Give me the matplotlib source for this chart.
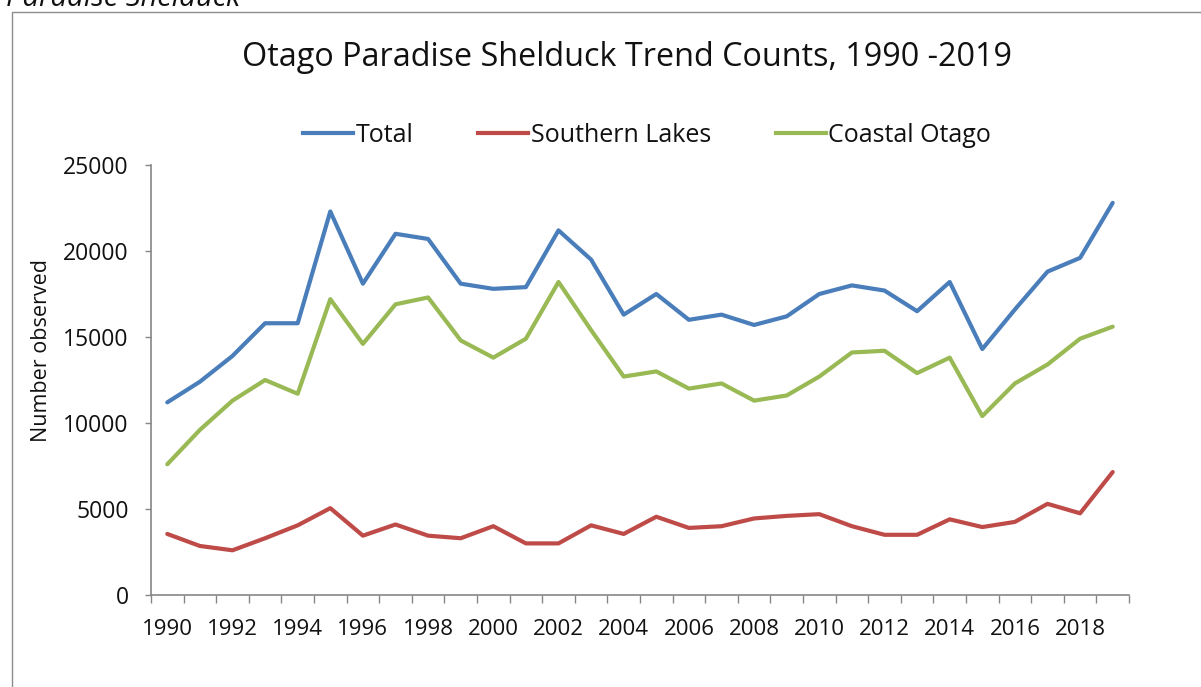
import numpy as np
import matplotlib
matplotlib.use("Agg")
import matplotlib.pyplot as plt
from matplotlib.lines import Line2D
from matplotlib.patches import Rectangle

plt.rcParams['font.family'] = ['Open Sans', 'DejaVu Sans']

# Otago Paradise Shelduck trend counts
years = list(range(1990, 2020))
total = [11200, 12400, 13900, 15800, 15800, 22300, 18100, 21000, 20700, 18100,
         17800, 17900, 21200, 19500, 16300, 17500, 16000, 16300, 15700, 16200,
         17500, 18000, 17700, 16500, 18200, 14300, 16600, 18800, 19600, 22800]
southern_lakes = [3550, 2850, 2600, 3300, 4050, 5050, 3450, 4100, 3450, 3300,
                  4000, 3000, 3000, 4050, 3550, 4550, 3900, 4000, 4450, 4600,
                  4700, 4000, 3500, 3500, 4400, 3950, 4250, 5300, 4750, 7150]
coastal_otago = [7600, 9600, 11300, 12500, 11700, 17200, 14600, 16900, 17300, 14800,
                 13800, 14900, 18200, 15400, 12700, 13000, 12000, 12300, 11300, 11600,
                 12700, 14100, 14200, 12900, 13800, 10400, 12300, 13400, 14900, 15600]
series_names = ["Total", "Southern Lakes", "Coastal Otago"]
series_colors = ["#4A7EBB", "#BE4B48", "#98B954"]
y_ticks = [0, 5000, 10000, 15000, 20000, 25000]

W, H = 1201, 687
fig = plt.figure(figsize=(W / 100, H / 100), dpi=100)

def fx(px):
    return px / W

def fy(py):
    return 1 - py / H

# chart frame
fig.add_artist(Rectangle((fx(12), fy(H + 20)), fx(W + 20), fy(12) - fy(H + 20),
                         transform=fig.transFigure, fill=False,
                         edgecolor="#8c8c8c", linewidth=1.0))

# caption from the page above the chart
fig.text(fx(6), fy(6), "Paradise Shelduck", fontsize=21, style='italic',
         ha='left', va='baseline', color='#111111')

ax = fig.add_axes([fx(151), fy(595), fx(1129) - fx(151), fy(165) - fy(595)])
x = np.arange(len(years))
for vals, name, col in zip([total, southern_lakes, coastal_otago], series_names, series_colors):
    ax.plot(x, vals, color=col, linewidth=3.0, solid_joinstyle='round',
            solid_capstyle='round', label=name)

ax.set_xlim(-0.5, len(years) - 0.5)
ax.set_ylim(0, 25000)
ax.set_yticks(y_ticks)
ax.set_yticklabels([str(v) for v in y_ticks])

# category boundary ticks and year labels every other category
ax.set_xticks(np.arange(-0.5, len(years), 1.0))
ax.set_xticklabels([])
ax.set_xticks(x[::2], minor=True)
ax.set_xticklabels([str(y) for y in years[::2]], minor=True)
ax.tick_params(axis='x', which='major', direction='out', length=5.5, width=1, color='#868686')
ax.tick_params(axis='x', which='minor', length=0, pad=17, labelsize=16, labelcolor='#111111')
ax.tick_params(axis='y', direction='out', length=4, width=1, color='#868686',
               pad=12, labelsize=16.5, labelcolor='#111111')

for s in ['top', 'right']:
    ax.spines[s].set_visible(False)
for s in ['left', 'bottom']:
    ax.spines[s].set_color('#868686')
    ax.spines[s].set_linewidth(1.2)

fig.text(fx(42), fy(350), "Number observed", rotation=90, fontsize=15.5,
         ha='center', va='center', color='#111111')

fig.text(fx(627), fy(57), "Otago Paradise Shelduck Trend Counts, 1990 -2019",
         fontsize=23.3, ha='center', va='center', color='#111111')

handles = [Line2D([0], [0], color=c, linewidth=3.0) for c in series_colors]
fig.legend(handles, series_names, loc='center', bbox_to_anchor=(fx(647), fy(135)),
           ncol=3, frameon=False, fontsize=18, handlelength=2.0,
           handletextpad=0.1, columnspacing=2.6, labelcolor='#111111')

fig.savefig("out.png", dpi=100)
